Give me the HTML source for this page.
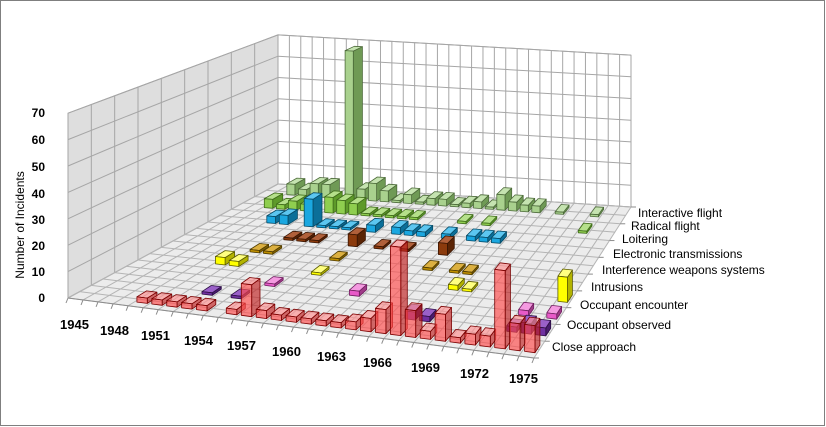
<!DOCTYPE html>
<html><head><meta charset="utf-8">
<style>
html,body{margin:0;padding:0;background:#fff;}
svg{display:block;}
text{font-family:"Liberation Sans",sans-serif;}
</style></head>
<body>
<svg id="c" width="826" height="427" viewBox="0 0 826 427" xmlns="http://www.w3.org/2000/svg">
<rect x="0.5" y="0.5" width="824" height="425" fill="#fff" stroke="#7f7f7f"/>
<g id="g"></g>
<g font-size="12" font-weight="bold" fill="#000" text-anchor="end">
<text x="45" y="117">70</text><text x="45" y="144">60</text><text x="45" y="171">50</text>
<text x="45" y="198">40</text><text x="45" y="224">30</text><text x="45" y="250">20</text>
<text x="45" y="276">10</text><text x="45" y="302">0</text>
</g>
<text transform="translate(24,225) rotate(-90)" font-size="12" text-anchor="middle">Number of Incidents</text>
<g font-size="13" font-weight="bold" fill="#000">
<text x="60" y="329">1945</text><text x="100" y="335">1948</text><text x="141" y="340">1951</text>
<text x="184" y="345">1954</text><text x="227" y="350">1957</text><text x="272" y="356">1960</text>
<text x="317" y="361">1963</text><text x="363" y="367">1966</text><text x="411" y="372">1969</text>
<text x="460" y="378">1972</text><text x="509" y="383">1975</text>
</g>
<g font-size="12" fill="#000">
<text x="638" y="217">Interactive flight</text>
<text x="631" y="230">Radical flight</text>
<text x="622" y="243">Loitering</text>
<text x="613" y="258">Electronic transmissions</text>
<text x="602" y="274">Interference weapons systems</text>
<text x="591" y="291">Intrusions</text>
<text x="580" y="309">Occupant encounter</text>
<text x="567" y="329">Occupant observed</text>
<text x="552" y="351">Close approach</text>
</g>
</svg>
<script>
(function(){
var NS="http://www.w3.org/2000/svg",g=document.getElementById("g");
var NU=31,NV=9;
var FL=[68,298],FR=[534,358],BL=[278,184],BR=[631,207];
var sFL=2.64,sFR=2.72,sBL=2.13,sBR=2.17;
function P(u,v){var a=u/NU,b=v/NV;
 var x=(1-a)*(1-b)*FL[0]+a*(1-b)*FR[0]+(1-a)*b*BL[0]+a*b*BR[0];
 var y=(1-a)*(1-b)*FL[1]+a*(1-b)*FR[1]+(1-a)*b*BL[1]+a*b*BR[1];
 return [x,y];}
function S(u,v){var a=u/NU,b=v/NV;return (1-a)*(1-b)*sFL+a*(1-b)*sFR+(1-a)*b*sBL+a*b*sBR;}
function Q(u,v,h){var p=P(u,v);return [p[0],p[1]-h*S(u,v)];}
function poly(pts,fill,stroke,sw,op){var e=document.createElementNS(NS,"polygon");
 e.setAttribute("points",pts.map(function(p){return p[0].toFixed(1)+","+p[1].toFixed(1)}).join(" "));
 e.setAttribute("fill",fill);if(stroke){e.setAttribute("stroke",stroke);e.setAttribute("stroke-width",sw||1);e.setAttribute("stroke-linejoin","round");}
 if(op!=null)e.setAttribute("fill-opacity",op);g.appendChild(e);}
function line(a,b,c,w){var e=document.createElementNS(NS,"line");e.setAttribute("x1",a[0]);e.setAttribute("y1",a[1]);e.setAttribute("x2",b[0]);e.setAttribute("y2",b[1]);e.setAttribute("stroke",c);e.setAttribute("stroke-width",w||1);g.appendChild(e);}
poly([Q(0,0,0),Q(0,NV,0),Q(0,NV,70),Q(0,0,70)],"#dedede","#a6a6a6",1);
poly([Q(0,NV,0),Q(NU,NV,0),Q(NU,NV,70),Q(0,NV,70)],"#ffffff","#a6a6a6",1);
poly([Q(0,0,0),Q(NU,0,0),Q(NU,NV,0),Q(0,NV,0)],"#ececec",null);
var k;
for(k=0;k<=70;k+=10){line(Q(0,0,k),Q(0,NV,k),"#a6a6a6");line(Q(0,NV,k),Q(NU,NV,k),"#a6a6a6");}
for(k=0;k<=NV;k+=1){line(Q(0,k,0),Q(0,k,70),"#a6a6a6");}
for(k=0;k<=NU;k++){line(Q(k,NV,0),Q(k,NV,70),"#a6a6a6");}
for(k=0;k<=NV*2;k++){line(P(0,k/2),P(NU,k/2),"#b4b4b4");}
for(k=0;k<=NU;k++){line(P(k,0),P(k,NV),"#b4b4b4");}
line(P(0,0),P(NU,0),"#8c8c8c");
for(k=0;k<=NU;k++){var p=P(k,0);line(p,[p[0]-2,p[1]+5],"#8c8c8c");}
for(k=0;k<=NV;k++){var p=P(NU,k);line(p,[p[0]+5,p[1]],"#8c8c8c");}
var S9=[
[8,"#a9d18e","#6f9a55","#c5e3b0","#4d6b3a",1,{1947:5,1948:3,1949:6,1950:6,1952:68,1953:5,1954:8,1955:5,1956:1,1957:4,1958:1,1959:3,1960:3,1961:1,1962:2,1963:3,1964:1,1965:7,1966:4,1967:3,1968:3,1970:1,1973:1}],
[7,"#8fce4f","#5e9a2a","#b5e08a","#3f6b1a",1,{1947:4,1948:2,1949:4,1950:3,1952:7,1953:6,1954:5,1955:1,1956:1,1957:1,1958:1,1959:1,1963:1,1965:1,1973:1}],
[6,"#1aa7e0","#0b6f99","#5cc6f0","#064a66",1,{1949:3,1950:4,1952:12,1953:1,1954:1,1955:1,1957:3,1959:3,1960:2,1961:2,1963:2,1965:2,1966:2,1967:2}],
[5,"#8b3a0c","#5a2405","#b0603a","#3a1502",1,{1952:1,1953:1,1954:1,1957:5,1959:1,1961:1,1964:5}],
[4,"#bf8f00","#806000","#dcb040","#503c00",1,{1951:1,1952:1,1957:1,1964:1,1966:1,1967:1}],
[3,"#ffff00","#b3b300","#ffff80","#5a5a00",1,{1950:3,1951:2,1957:1,1967:2,1968:1,1975:10}],
[2,"#e85ac8","#a03a88","#f49ae0","#702060",1,{1955:1,1961:2,1973:2,1975:2}],
[1,"#7030a0","#4a1c6e","#9a60c8","#2c0f44",1,{1952:1,1954:1,1966:3,1967:2,1973:2,1974:4,1975:3}],
[0,"#ff4a4a","#c02020","#ff9090","#7a0000",0.65,{1949:2,1950:2,1951:2,1952:2,1953:2,1955:2,1956:12,1957:3,1958:2,1959:2,1960:2,1961:2,1962:2,1963:3,1964:5,1965:9,1966:33,1967:10,1968:3,1969:10,1970:2,1971:4,1972:4,1973:29,1974:10,1975:10}]
];
S9.forEach(function(s){var r=s[0],d=s[6];
 for(var y=1945;y<=1975;y++){var h=d[y];if(!h)continue;
  var i=y-1945,u0=i+0.15,u1=i+0.85,v0=r+0.3,v1=r+0.75;
  var FBL=Q(u0,v0,0),FBR=Q(u1,v0,0),BBR=Q(u1,v1,0),FTL=Q(u0,v0,h),FTR=Q(u1,v0,h),BTR=Q(u1,v1,h),BTL=Q(u0,v1,h);
  poly([FBR,BBR,BTR,FTR],s[2],s[4],0.8,s[5]);
  poly([FTL,FTR,BTR,BTL],s[3],s[4],0.8,s[5]);
  poly([FBL,FBR,FTR,FTL],s[1],s[4],0.8,s[5]);
 }});
})();
</script>
</body></html>
